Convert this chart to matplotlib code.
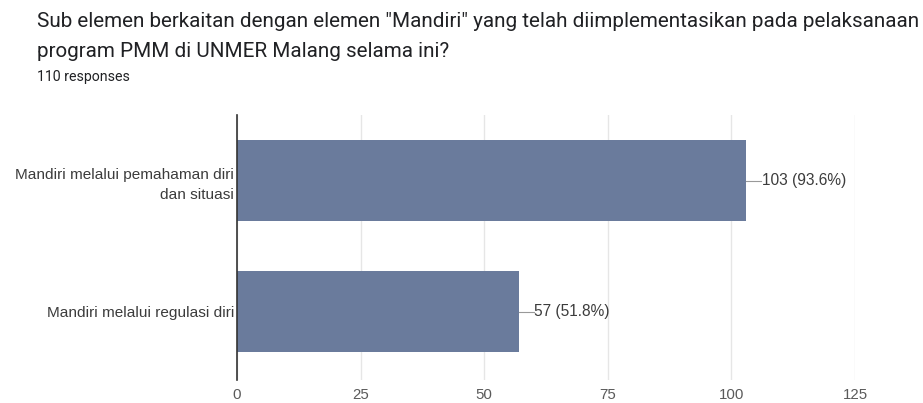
import matplotlib.pyplot as plt

# survey answers, top to bottom
categories = ["Mandiri melalui pemahaman diri\ndan situasi", "Mandiri melalui regulasi diri"]
counts = [103, 57]
percents = [93.6, 51.8]
x_ticks = [0, 25, 50, 75, 100, 125]
title_lines = ['Sub elemen berkaitan dengan elemen "Mandiri" yang telah diimplementasikan pada pelaksanaan',
               "program PMM di UNMER Malang selama ini?"]
subtitle = "110 responses"

plt.rcParams["font.family"] = ["Roboto", "DejaVu Sans"]
chart_font = ["Liberation Sans", "DejaVu Sans"]

fig = plt.figure(figsize=(9.23, 4.03), dpi=100)
ax = fig.add_axes([0.2568, 0.0571, 0.6695, 0.6576])

pos = list(range(len(categories)))
ax.barh(pos, counts, height=0.62, color="#6a7b9c", zorder=3)

for y, c, p in zip(pos, counts, percents):
    ax.plot([c, c + 3.0], [y, y], color="#999999", lw=0.8, zorder=3)
    ax.text(c + 3.1, y, f"{c} ({p}%)", va="center", ha="left",
            fontsize=11.2, color="#3c3c3c", family=chart_font)

ax.set_xlim(0, 125)
ax.set_ylim(1.52, -0.5)
ax.set_xticks(x_ticks)
ax.set_yticks(pos)
ax.set_yticklabels(categories, fontsize=11.1, color="#3c3c3c", linespacing=1.5,
                   family=chart_font)
for lbl in ax.get_xticklabels():
    lbl.set_family(chart_font)
ax.tick_params(axis="x", length=0, labelsize=10.8, labelcolor="#5a5a5a", pad=6)
ax.tick_params(axis="y", length=0, pad=2)
ax.grid(axis="x", color="#e6e6e6", lw=1, zorder=0)

for s in ["top", "right", "bottom"]:
    ax.spines[s].set_visible(False)
ax.spines["left"].set_color("#333333")
ax.spines["left"].set_linewidth(1.2)
ax.spines["left"].set_zorder(4)

# question text and response count
for line, yb in zip(title_lines, [0.933, 0.859]):
    fig.text(0.040, yb, line, ha="left", va="baseline", fontsize=14.85, color="#202124")
fig.text(0.040, 0.799, subtitle, ha="left", va="baseline", fontsize=10.2, color="#202124")

fig.savefig("out.png", dpi=100)
